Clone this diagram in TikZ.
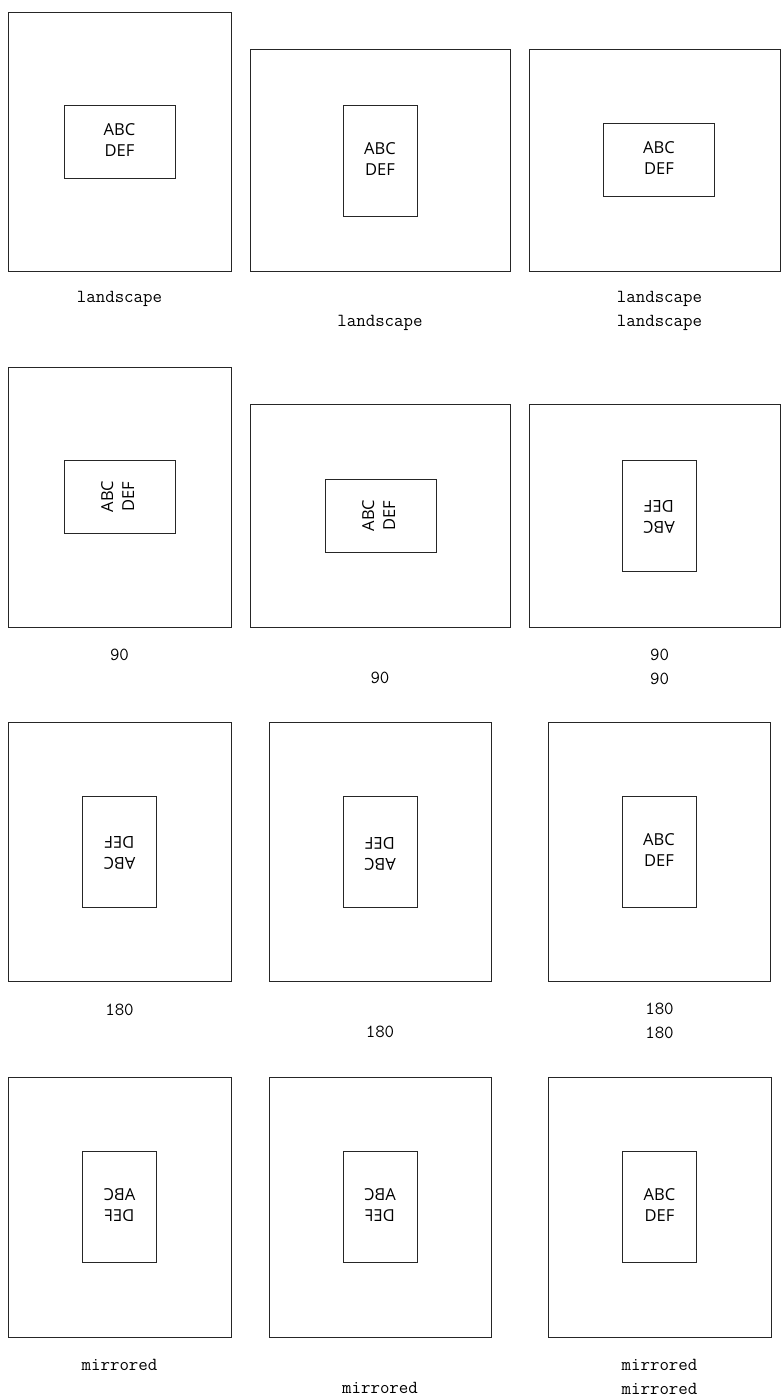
\documentclass[tikz,border=0pt]{standalone}
\usepackage{fontspec}
\usepackage{graphicx}
\setsansfont{Open Sans}
\usetikzlibrary{positioning}
\tikzset{
  frame/.style={draw=black!85, line width=0.9pt},
  pagebox/.style={draw=black!85, line width=0.9pt, inner sep=0pt,
    font=\sffamily\fontsize{16.5}{21}\selectfont},
  landbox/.style={pagebox, minimum width=111pt, minimum height=73pt},
  portbox/.style={pagebox, minimum width=74pt, minimum height=111pt},
  caption/.style={font=\ttfamily\fontsize{18.4}{24}\selectfont, align=center, inner sep=0pt}
}
\newcommand{\pagetext}{\begin{tabular}{@{}c@{}}ABC\\DEF\end{tabular}}

\begin{document}
\begin{tikzpicture}[x=1pt,y=-1pt]
  \useasboundingbox (0,0) rectangle (781,1396);
  % landscape
  \draw[frame] (8,12) rectangle (231,271);
  \node[landbox] (t11) at (119.5,141.5) {\pagetext};
  \node[caption] (c11) at (119.5,299) {landscape};
  \draw[frame] (250,49) rectangle (510,271);
  \node[portbox] (t12) at (380,160.5) {\pagetext};
  \node[caption] (c12) at (380,323) {landscape};
  \draw[frame] (529,49) rectangle (780.5,271);
  \node[landbox] (t13) at (659,160) {\pagetext};
  \node[caption] (c13) at (659.5,311) {landscape\\landscape};
  % 90
  \draw[frame] (8,367) rectangle (231,627);
  \node[landbox] (t21) at (119.5,496.5) {\rotatebox{90}{\pagetext}};
  \node[caption] (c21) at (119.5,655) {90};
  \draw[frame] (250,404) rectangle (510,627);
  \node[landbox] (t22) at (380.5,515.5) {\rotatebox{90}{\pagetext}};
  \node[caption] (c22) at (380,678) {90};
  \draw[frame] (529,404) rectangle (780.5,627);
  \node[portbox] (t23) at (659,515.5) {\rotatebox{180}{\pagetext}};
  \node[caption] (c23) at (659.5,666.5) {90\\90};
  % 180
  \draw[frame] (8,722) rectangle (231,981);
  \node[portbox] (t31) at (119.5,851.5) {\rotatebox{180}{\pagetext}};
  \node[caption] (c31) at (119.5,1010) {180};
  \draw[frame] (269,722) rectangle (491,981.5);
  \node[portbox] (t32) at (380,852) {\rotatebox{180}{\pagetext}};
  \node[caption] (c32) at (380,1032) {180};
  \draw[frame] (548,722) rectangle (770,981);
  \node[portbox] (t33) at (659,851.5) {\pagetext};
  \node[caption] (c33) at (659.5,1021) {180\\180};
  % mirrored
  \draw[frame] (8,1077) rectangle (231,1337);
  \node[portbox] (t41) at (119.5,1206.5) {\reflectbox{\pagetext}};
  \node[caption] (c41) at (119.5,1365) {mirrored};
  \draw[frame] (269,1077) rectangle (491,1337);
  \node[portbox] (t42) at (380,1206.5) {\reflectbox{\pagetext}};
  \node[caption] (c42) at (380,1388) {mirrored};
  \draw[frame] (548,1077) rectangle (771,1337);
  \node[portbox] (t43) at (659.5,1206.5) {\pagetext};
  \node[caption] (c43) at (659.5,1376.5) {mirrored\\mirrored};
\end{tikzpicture}
\end{document}
